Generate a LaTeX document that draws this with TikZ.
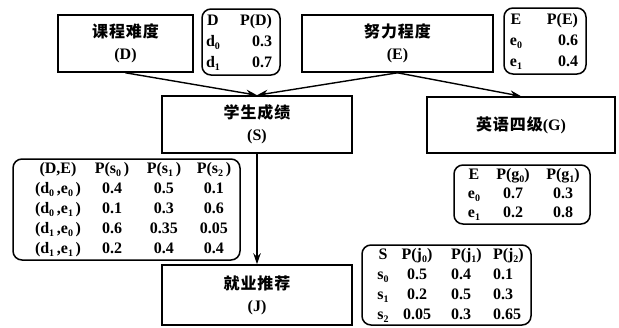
\documentclass[tikz,border=0pt]{standalone}
\usepackage{fontspec}
\usepackage{array}
\usepackage{graphicx}
\setmainfont{Liberation Serif}
\newfontfamily\cjk[LetterSpace=6]{Noto Sans CJK SC}
\usetikzlibrary{arrows.meta}
\newcommand\lo[1]{\raisebox{-0.45ex}{\fontsize{10}{10}\selectfont #1}}
\setlength{\tabcolsep}{0pt}
\begin{document}
\begin{tikzpicture}[x=1pt,y=-1pt,
  box/.style={draw, line width=1.6pt, inner sep=0pt, align=center,
    font=\fontsize{16}{22}\selectfont\bfseries},
  tbl/.style={draw, line width=1.5pt, rounded corners=9pt, inner sep=0pt,
    font=\bfseries},
  arr/.style={-{Stealth[length=11pt,width=7.5pt]}, line width=1.4pt}]
\useasboundingbox (0,0) rectangle (619,327);
% main boxes
\node[box, minimum width=135pt, minimum height=57pt] (D) at (125.5,43.5) {{\cjk 课程难度}\\(D)};
\node[box, minimum width=191pt, minimum height=57pt] (E) at (397.5,43.5) {{\cjk 努力程度}\\(E)};
\node[box, minimum width=190pt, minimum height=57pt] (S) at (257,124.5) {{\cjk 学生成绩}\\(S)};
\node[box, minimum width=188pt, minimum height=56pt] (G) at (521,125) {{\cjk 英语四级}(G)};
\node[box, minimum width=190pt, minimum height=60pt] (J) at (257,295) {{\cjk 就业推荐}\\(J)};
% connectors
\draw[arr] (D.south) -- (S.north);
\draw[arr] (E.south) -- (S.north);
\draw[arr] (E.south) -- (G.north);
\draw[arr] (S.south) -- (J.north);
% tables
\node[tbl, minimum width=78pt, minimum height=66pt] (tD) at (241,42) {%
  \fontsize{16}{21}\selectfont
  \begin{tabular}{@{\hspace{1pt}}w{c}{20pt}@{\hspace{15pt}}w{r}{34pt}@{\hspace{8pt}}}
  D & P(D)\\
  d\lo{0} & 0.3\\
  d\lo{1} & 0.7
  \end{tabular}};
\node[tbl, minimum width=82pt, minimum height=66pt] (tE) at (545,41) {%
  \fontsize{16}{21}\selectfont
  \begin{tabular}{@{\hspace{2pt}}w{c}{20pt}@{\hspace{18pt}}w{r}{34pt}@{\hspace{8pt}}}
  E & P(E)\\
  e\lo{0} & 0.6\\
  e\lo{1} & 0.4
  \end{tabular}};
\node[tbl, minimum width=227pt, minimum height=101pt] (tS) at (126.5,209.5) {%
  \fontsize{16}{20}\selectfont
  \begin{tabular}{@{\hspace{18pt}}w{c}{54pt}w{c}{54pt}w{c}{50pt}w{c}{50pt}@{\hspace{1pt}}}
  (D,E) & P(s\lo{0}\,) & P(s\lo{1}\,) & P(s\lo{2}\,)\\
  (d\lo{0}\,,e\lo{0}\,) & 0.4 & 0.5 & 0.1\\
  (d\lo{0}\,,e\lo{1}\,) & 0.1 & 0.3 & 0.6\\
  (d\lo{1}\,,e\lo{0}\,) & 0.6 & 0.35 & 0.05\\
  (d\lo{1}\,,e\lo{1}\,) & 0.2 & 0.4 & 0.4
  \end{tabular}};
\node[tbl, minimum width=136pt, minimum height=59pt] (tG) at (522,194.5) {%
  \fontsize{16}{19}\selectfont
  \begin{tabular}{@{\hspace{10pt}}w{c}{20pt}@{\hspace{12pt}}w{c}{34pt}@{\hspace{16pt}}w{c}{34pt}@{\hspace{10pt}}}
  E & P(g\lo{0}) & P(g\lo{1})\\
  e\lo{0} & 0.7 & 0.3\\
  e\lo{1} & 0.2 & 0.8
  \end{tabular}};
\node[tbl, minimum width=169pt, minimum height=80pt] (tJ) at (446.5,285) {%
  \fontsize{16}{20}\selectfont
  \begin{tabular}{@{\hspace{11pt}}w{c}{20pt}@{\hspace{6pt}}w{c}{36pt}@{\hspace{16pt}}w{l}{36pt}@{\hspace{6pt}}w{l}{38pt}@{}}
  S & P(j\lo{0}) & P(j\lo{1}) & P(j\lo{2})\\
  s\lo{0} & 0.5 & 0.4 & 0.1\\
  s\lo{1} & 0.2 & 0.5 & 0.3\\
  s\lo{2} & 0.05 & 0.3 & 0.65
  \end{tabular}};
\end{tikzpicture}
\end{document}
